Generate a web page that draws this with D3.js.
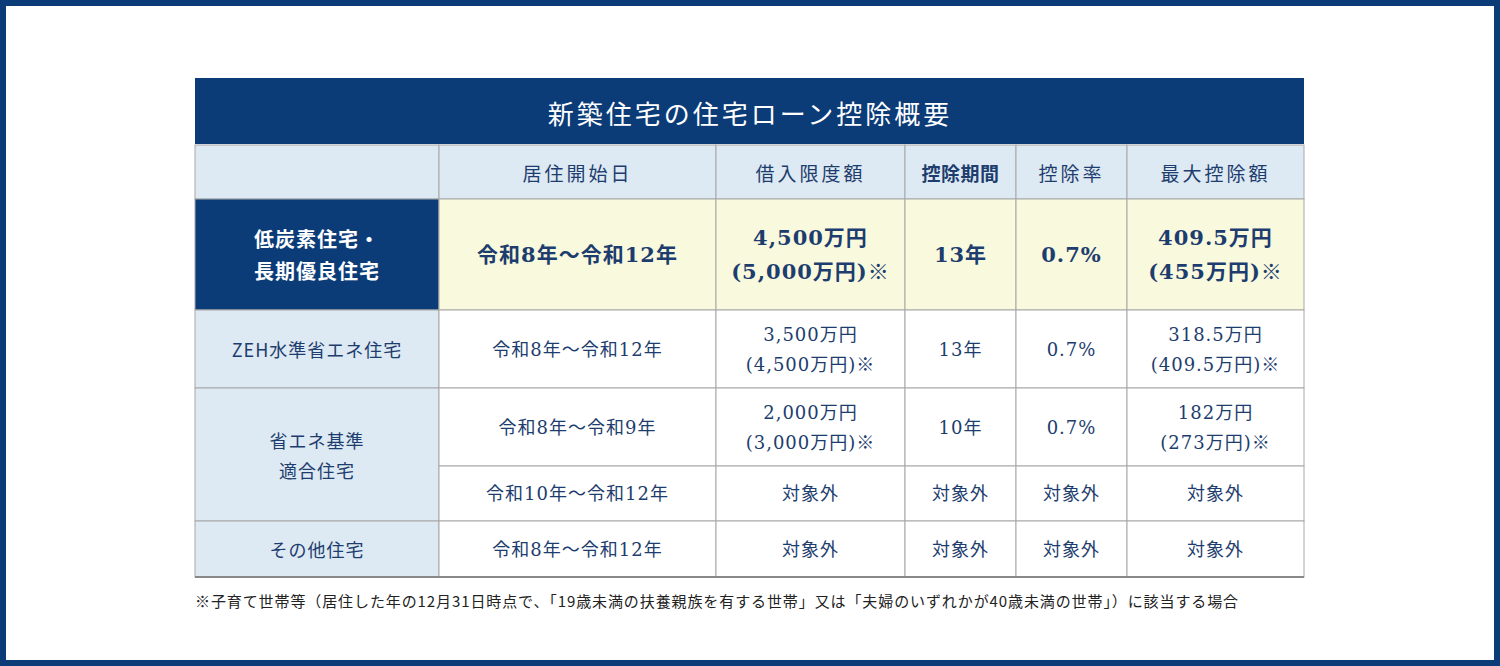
<!DOCTYPE html>
<html><head><meta charset="utf-8">
<script src="https://cdn.jsdelivr.net/npm/d3@7"></script>
<style>body{margin:0;background:#fff}</style></head>
<body><svg id="c" width="1500" height="666"></svg>
<script>
const title = "新築住宅の住宅ローン控除概要";
const headers = ["", "居住開始日", "借入限度額", "控除期間", "控除率", "最大控除額"];
const categories = [["低炭素住宅・","長期優良住宅"], ["ZEH水準省エネ住宅"], ["省エネ基準","適合住宅"], ["その他住宅"]];
const periods = ["令和8年～令和12年", "令和8年～令和12年", "令和8年～令和9年", "令和10年～令和12年", "令和8年～令和12年"];
const limits = [["4,500万円","(5,000万円)※"], ["3,500万円","(4,500万円)※"], ["2,000万円","(3,000万円)※"], ["対象外"], ["対象外"]];
const terms = ["13年", "13年", "10年", "対象外", "対象外"];
const rates = ["0.7%", "0.7%", "0.7%", "対象外", "対象外"];
const maxDed = [["409.5万円","(455万円)※"], ["318.5万円","(409.5万円)※"], ["182万円","(273万円)※"], ["対象外"], ["対象外"]];
const catSpan = [[0,1],[1,2],[2,4],[4,5]];
const footnote = "※子育て世帯等（居住した年の12月31日時点で、「19歳未満の扶養親族を有する世帯」又は「夫婦のいずれかが40歳未満の世帯」）に該当する場合";

const colX = [195, 439, 716, 905, 1016, 1127, 1304];
const rowY = [199, 310, 388, 466, 521, 577];
const navy = "#0b3c78", txt = "#1d3d6e", light = "#dde9f3", yellow = "#f9f9de", grid = "#a8a8a8";
const sans = "'Noto Sans CJK JP', sans-serif";
const serif = "'DejaVu Serif','Liberation Serif','Noto Sans CJK JP', serif";
const svg = d3.select("#c");
svg.append("rect").attr("x",3).attr("y",3).attr("width",1494).attr("height",660).attr("fill","none").attr("stroke",navy).attr("stroke-width",6);
svg.append("rect").attr("x",195).attr("y",78).attr("width",1109).attr("height",66).attr("fill",navy);
svg.append("text").attr("x",750).attr("y",112).attr("text-anchor","middle").attr("dominant-baseline","central")
  .attr("fill","#fff").attr("font-family",sans).attr("font-size",26).attr("letter-spacing",3).text(title);

function cell(x0,x1,y0,y1,fill,lines,opt){
  svg.append("rect").attr("x",x0).attr("y",y0).attr("width",x1-x0).attr("height",y1-y0).attr("fill",fill).attr("stroke",grid).attr("stroke-width",1);
  const lh = opt.lh||32, cy=(y0+y1)/2 - (lines.length-1)*lh/2;
  lines.forEach((l,i)=>{
    svg.append("text").attr("x",(x0+x1)/2).attr("y",cy+i*lh).attr("text-anchor","middle").attr("dominant-baseline","central")
      .attr("fill",opt.color||txt).attr("font-family",opt.font||sans).attr("font-size",opt.size||18)
      .attr("font-weight",opt.bold?"bold":"normal").attr("letter-spacing",opt.ls||1).text(l);
  });
}
headers.forEach((h,i)=>cell(colX[i],colX[i+1],145,199,light,h?[h]:[],{size:19,ls:i==3?0.5:3,bold:i==3}));
categories.forEach((c,k)=>{
  const [a,b]=catSpan[k];
  cell(colX[0],colX[1],rowY[a],rowY[b],k==0?navy:light,c,{color:k==0?"#fff":txt,bold:k==0,size:k==0?20:18,lh:k==0?32:30});
});
for(let r=0;r<5;r++){
  const hl=r==0, f=hl?yellow:"#fff";
  const o={font:serif,bold:hl,size:hl?21:18,lh:hl?34:30};
  cell(colX[1],colX[2],rowY[r],rowY[r+1],f,[periods[r]],o);
  cell(colX[2],colX[3],rowY[r],rowY[r+1],f,limits[r],o);
  cell(colX[3],colX[4],rowY[r],rowY[r+1],f,[terms[r]],o);
  cell(colX[4],colX[5],rowY[r],rowY[r+1],f,[rates[r]],o);
  cell(colX[5],colX[6],rowY[r],rowY[r+1],f,maxDed[r],o);
}
svg.append("line").attr("x1",195).attr("x2",1304).attr("y1",577).attr("y2",577).attr("stroke","#888").attr("stroke-width",2);
svg.append("text").attr("x",195).attr("y",600).attr("dominant-baseline","central").attr("fill","#222")
  .attr("font-family",sans).attr("font-size",15).attr("letter-spacing",0.9).text(footnote);
</script></body></html>
